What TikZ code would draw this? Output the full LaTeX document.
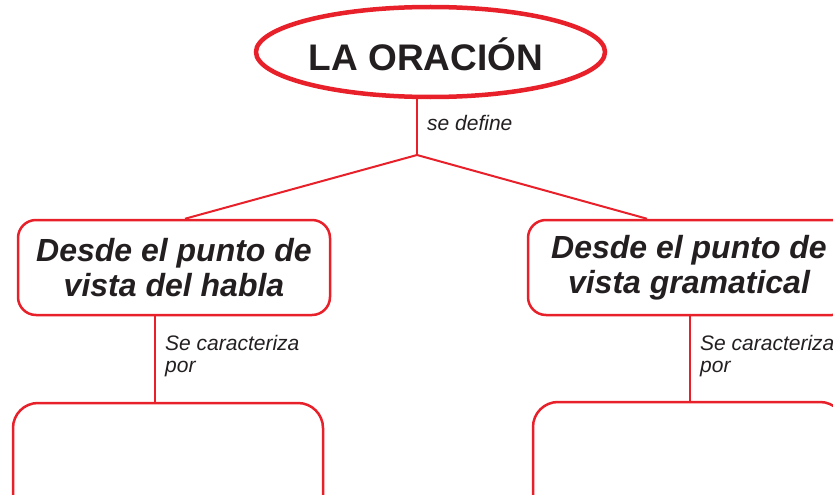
\documentclass[tikz,border=0pt]{standalone}
\usepackage{fontspec}
\setmainfont{Liberation Sans}
\usetikzlibrary{shapes.geometric}
\definecolor{cred}{HTML}{E8202A}
\definecolor{ctext}{HTML}{231F20}
\tikzset{
  titleell/.style={ellipse, draw=cred, line width=4.5pt, minimum width=349pt, minimum height=90pt, inner sep=0pt},
  titletext/.style={inner sep=0pt, text=ctext, font=\fontsize{37}{40}\selectfont\bfseries},
  catbox/.style={draw=cred, line width=2.5pt, rounded corners=18pt, inner sep=0pt, align=center, text=ctext, font=\fontsize{32}{35}\selectfont\bfseries\itshape},
  emptybox/.style={draw=cred, line width=2.5pt, rounded corners=25pt, inner sep=0pt},
  conn/.style={draw=cred, line width=2pt},
  lbl/.style={inner sep=0pt, align=left, text=ctext, font=\fontsize{21}{22}\selectfont\itshape}
}
\begin{document}
\begin{tikzpicture}[x=1pt,y=-1pt]
\useasboundingbox (0,0) rectangle (833,495);
\clip (0,0) rectangle (833,495);
\node[titleell] (top) at (430.5,52) {};
\node[titletext] (ttl) at (426,54.5) {LA ORACIÓN};
\coordinate (j) at (417,155);
\node[catbox, minimum width=312pt, minimum height=95pt] (lb) at (174,267.5) {Desde el punto de\\vista del habla};
\node[catbox, minimum width=322pt, minimum height=95pt] (rb) at (689,267.5) {Desde el punto de\\vista gramatical};
\node[emptybox, minimum width=310pt, minimum height=120pt] (lbb) at (168,463) {};
\node[emptybox, minimum width=312pt, minimum height=120pt] (rbb) at (689,462) {};
\draw[conn] (j |- top.south) -- (j);
\draw[conn] (j) -- ([xshift=11pt]lb.north);
\draw[conn] (j) -- ([xshift=-42pt]rb.north);
\draw[conn] ([xshift=-19pt]lb.south) coordinate (a) -- (a |- lbb.north);
\draw[conn] ([xshift=1pt]rb.south) coordinate (b) -- (b |- rbb.north);
\node[lbl, anchor=base west] (l1) at (427,130) {se define};
\node[lbl, anchor=north west] (l2) at (165,335) {Se caracteriza\\por};
\node[lbl, anchor=north west] (l3) at (700,335) {Se caracteriza\\por};
\end{tikzpicture}
\end{document}
